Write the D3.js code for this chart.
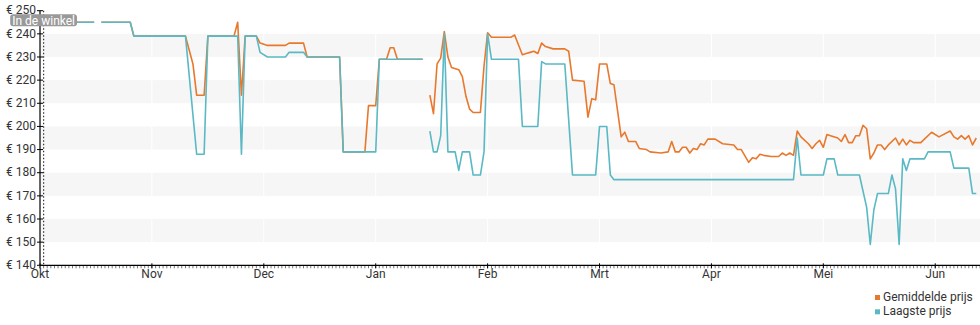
<!DOCTYPE html>
<html>
<head>
<meta charset="utf-8">
<script src="https://cdn.jsdelivr.net/npm/d3@7/dist/d3.min.js"></script>
<style>
  html, body { margin: 0; padding: 0; background: #fff; }
  svg { display: block; font-family: Roboto, "Noto Sans", sans-serif; }
</style>
</head>
<body>
<svg id="chart" width="980" height="325"></svg>
<script>
// Month labels on the time axis (Dutch)
const maandLabels = ["Okt", "Nov", "Dec", "Jan", "Feb", "Mrt", "Apr", "Mei", "Jun"];
// Price ticks on the value axis
const prijsTicks = [140, 150, 160, 170, 180, 190, 200, 210, 220, 230, 240, 250];
const startMaand = new Date(2023, 9, 1);
const eindDatum = "2024-06-13";
const winkelDatum = "2023-10-02";

// Average price per day (null = no data)
const gemiddeldePrijs = [
  ["2023-10-02",245],["2023-10-16",245],["2023-10-17",null],["2023-10-18",245],["2023-10-26",245],
  ["2023-10-27",239],["2023-11-10",239],["2023-11-12",227],["2023-11-13",213.5],["2023-11-15",213.5],
  ["2023-11-16",239],["2023-11-23",239],["2023-11-24",245],["2023-11-25",213.5],["2023-11-26",239],
  ["2023-11-29",239],["2023-11-30",236],["2023-12-01",235.5],["2023-12-02",235],["2023-12-07",235],
  ["2023-12-08",236],["2023-12-12",236],["2023-12-13",230],["2023-12-22",230],["2023-12-23",189],
  ["2023-12-29",189],["2023-12-30",209],["2024-01-01",209],["2024-01-02",229],["2024-01-04",229],
  ["2024-01-05",234],["2024-01-06",234],["2024-01-07",229],["2024-01-14",229],["2024-01-15",null],
  ["2024-01-16",213.5],["2024-01-17",205.5],["2024-01-18",227],["2024-01-19",229.5],["2024-01-20",241],
  ["2024-01-21",230],["2024-01-22",225.5],["2024-01-24",224.5],["2024-01-25",221.5],["2024-01-26",213],
  ["2024-01-27",207.5],["2024-01-28",206],["2024-01-30",206],["2024-01-31",226],["2024-02-01",240.5],
  ["2024-02-02",238.5],["2024-02-07",238.5],["2024-02-08",239.5],["2024-02-10",231],["2024-02-11",231.5],
  ["2024-02-12",232],["2024-02-13",232.5],["2024-02-14",231.5],["2024-02-15",236],["2024-02-16",234.5],
  ["2024-02-18",233.5],["2024-02-21",233.5],["2024-02-22",232.5],["2024-02-23",220],["2024-02-26",219.5],
  ["2024-02-27",204],["2024-02-28",212],["2024-02-29",211.5],["2024-03-01",227],["2024-03-03",227],
  ["2024-03-04",218.5],["2024-03-05",218],["2024-03-07",195.5],["2024-03-08",197.5],["2024-03-09",193.5],
  ["2024-03-11",193.5],["2024-03-12",190.5],["2024-03-14",190],["2024-03-15",189],["2024-03-18",188.5],
  ["2024-03-20",189],["2024-03-21",193.5],["2024-03-22",189],["2024-03-23",189],["2024-03-24",191],
  ["2024-03-25",191],["2024-03-26",188.5],["2024-03-27",190.5],["2024-03-28",190],["2024-03-29",192.5],
  ["2024-03-30",192],["2024-03-31",194.5],["2024-04-02",194.5],["2024-04-04",192.5],["2024-04-07",192],
  ["2024-04-08",190],["2024-04-09",190],["2024-04-11",184.5],["2024-04-12",186.5],["2024-04-13",186],
  ["2024-04-14",188],["2024-04-15",187.5],["2024-04-17",187],["2024-04-19",187],["2024-04-20",188.5],
  ["2024-04-21",187.5],["2024-04-22",188.5],["2024-04-23",187.5],["2024-04-24",198],["2024-04-25",195.5],
  ["2024-04-27",192.5],["2024-04-28",190.5],["2024-04-29",192.5],["2024-04-30",194],["2024-05-01",191],
  ["2024-05-02",196.5],["2024-05-03",196],["2024-05-05",195],["2024-05-06",193.5],["2024-05-07",196.5],
  ["2024-05-08",193],["2024-05-09",193],["2024-05-10",196],["2024-05-11",196],["2024-05-12",200.5],
  ["2024-05-13",199],["2024-05-14",186],["2024-05-15",188.5],["2024-05-16",192],["2024-05-17",192],
  ["2024-05-18",190],["2024-05-19",192],["2024-05-21",195],["2024-05-22",192],["2024-05-23",194.5],
  ["2024-05-24",192],["2024-05-25",194],["2024-05-26",193],["2024-05-28",193],["2024-05-29",194.5],
  ["2024-05-31",197.5],["2024-06-02",195.5],["2024-06-05",198],["2024-06-06",195.5],["2024-06-07",194.5],
  ["2024-06-08",196],["2024-06-09",194.5],["2024-06-10",196],["2024-06-11",192],["2024-06-12",195]
];

// Lowest price per day (null = no data)
const laagstePrijs = [
  ["2023-10-02",245],["2023-10-16",245],["2023-10-17",null],["2023-10-18",245],["2023-10-26",245],
  ["2023-10-27",239],["2023-11-10",239],["2023-11-13",188],["2023-11-15",188],["2023-11-16",239],
  ["2023-11-24",239],["2023-11-25",188],["2023-11-26",239],["2023-11-29",239],["2023-11-30",232],
  ["2023-12-02",230],["2023-12-07",230],["2023-12-08",232],["2023-12-12",232],["2023-12-13",230],
  ["2023-12-22",230],["2023-12-23",189],["2024-01-01",189],["2024-01-02",229],["2024-01-14",229],
  ["2024-01-15",null],["2024-01-16",198],["2024-01-17",189],["2024-01-18",189],["2024-01-19",196],
  ["2024-01-20",240],["2024-01-21",189],["2024-01-23",189],["2024-01-24",181],["2024-01-25",189],
  ["2024-01-27",189],["2024-01-28",179],["2024-01-30",179],["2024-01-31",189],["2024-02-01",240],
  ["2024-02-02",229],["2024-02-09",229],["2024-02-10",200],["2024-02-14",200],["2024-02-15",228],
  ["2024-02-16",227],["2024-02-21",227],["2024-02-23",179],["2024-02-29",179],["2024-03-01",200],
  ["2024-03-03",200],["2024-03-04",179],["2024-03-05",177],["2024-04-23",177],["2024-04-24",195],
  ["2024-04-25",179],["2024-05-01",179],["2024-05-02",186],["2024-05-04",186],["2024-05-05",179],
  ["2024-05-11",179],["2024-05-13",165],["2024-05-14",149],["2024-05-15",164],["2024-05-16",171],
  ["2024-05-19",171],["2024-05-20",179],["2024-05-21",173],["2024-05-22",149],["2024-05-23",186],
  ["2024-05-24",181],["2024-05-25",186],["2024-05-29",186],["2024-05-30",189],["2024-06-05",189],
  ["2024-06-06",182],["2024-06-10",182],["2024-06-11",171],["2024-06-12",171]
];

const series = [
  { naam: "Gemiddelde prijs", data: gemiddeldePrijs, kleur: "#e8782c" },
  { naam: "Laagste prijs", data: laagstePrijs, kleur: "#5ab9c4" }
];

const parseDag = d3.timeParse("%Y-%m-%d");

// Each month gets the same width on the axis; days are spread within their month.
function maandPositie(datum) {
  const m = (datum.getFullYear() - startMaand.getFullYear()) * 12 + datum.getMonth() - startMaand.getMonth();
  const dagenInMaand = new Date(datum.getFullYear(), datum.getMonth() + 1, 0).getDate();
  return m + (datum.getDate() - 1) / dagenInMaand;
}

const svg = d3.select("#chart");
const margin = { left: 40, right: 0, top: 10.7, bottom: 59.7 };
const W = 980, H = 325;
const fontSize = 12;

const x = d3.scaleLinear()
  .domain([0, maandPositie(parseDag(eindDatum))])
  .range([margin.left, W - margin.right]);
const y = d3.scaleLinear()
  .domain([d3.min(prijsTicks), d3.max(prijsTicks)])
  .range([H - margin.bottom, margin.top]);

// Alternating horizontal bands
const banden = svg.append("g");
for (let i = 0; i < prijsTicks.length - 1; i++) {
  if (i % 2 === 1) {
    banden.append("rect")
      .attr("x", x.range()[0]).attr("width", x.range()[1] - x.range()[0])
      .attr("y", y(prijsTicks[i + 1])).attr("height", y(prijsTicks[i]) - y(prijsTicks[i + 1]))
      .attr("fill", "#f6f6f6");
  }
}
// Faint month separators
banden.selectAll("line.maand").data(maandLabels).join("line")
  .attr("x1", (d, i) => x(i)).attr("x2", (d, i) => x(i))
  .attr("y1", y.range()[1]).attr("y2", y.range()[0])
  .attr("stroke", "#ffffff").attr("stroke-width", 1);

// "In de winkel" marker line
const wx = x(maandPositie(parseDag(winkelDatum)));
svg.append("line")
  .attr("x1", wx).attr("x2", wx)
  .attr("y1", y.range()[1]).attr("y2", y.range()[0])
  .attr("stroke", "#333").attr("stroke-width", 1.2)
  .attr("stroke-dasharray", "1.5,2");

// Lines
const lijn = d3.line()
  .defined(d => d[1] !== null)
  .x(d => x(maandPositie(parseDag(d[0]))))
  .y(d => y(d[1]));

series.forEach(s => {
  svg.append("path")
    .datum(s.data)
    .attr("fill", "none")
    .attr("stroke", s.kleur)
    .attr("stroke-width", 1.6)
    .attr("stroke-linejoin", "round")
    .attr("d", lijn);
});

// Value axis
const yAs = svg.append("g").attr("transform", `translate(${margin.left},0)`);
yAs.append("line")
  .attr("x1", 0).attr("x2", 0).attr("y1", y.range()[1]).attr("y2", y.range()[0])
  .attr("stroke", "#000").attr("stroke-width", 1.2);
yAs.selectAll("line.tick").data(prijsTicks).join("line")
  .attr("x1", -3).attr("x2", 3)
  .attr("y1", d => y(d)).attr("y2", d => y(d))
  .attr("stroke", "#000");
yAs.selectAll("text").data(prijsTicks).join("text")
  .attr("x", -4).attr("y", d => y(d) - 0.5).attr("dy", "0.35em")
  .attr("text-anchor", "end")
  .attr("font-size", fontSize).attr("fill", "#333")
  .text(d => "€ " + d);

// Time axis
const xAs = svg.append("g").attr("transform", `translate(0,${y.range()[0]})`);
// daily minor ticks
const dagen = d3.timeDay.range(startMaand, d3.timeDay.offset(parseDag(eindDatum), 1));
xAs.selectAll("line.dag").data(dagen).join("line")
  .attr("x1", d => x(maandPositie(d))).attr("x2", d => x(maandPositie(d)))
  .attr("y1", 0).attr("y2", 3)
  .attr("stroke", "#777").attr("stroke-width", 1);
xAs.append("line")
  .attr("x1", x.range()[0]).attr("x2", x.range()[1]).attr("y1", 0).attr("y2", 0)
  .attr("stroke", "#000").attr("stroke-width", 1.2);
xAs.selectAll("line.maandtick").data(maandLabels).join("line")
  .attr("x1", (d, i) => x(i)).attr("x2", (d, i) => x(i))
  .attr("y1", -2).attr("y2", 3)
  .attr("stroke", "#000");
xAs.selectAll("text").data(maandLabels).join("text")
  .attr("x", (d, i) => x(i)).attr("y", 13)
  .attr("text-anchor", "middle")
  .attr("font-size", fontSize).attr("fill", "#333")
  .text(d => d);

// "In de winkel" label
const label = svg.append("g").attr("transform", `translate(${wx},20.3)`);
const labelTekst = label.append("text")
  .attr("text-anchor", "middle").attr("dy", "0.35em")
  .attr("font-size", fontSize).attr("fill", "#fff")
  .text("In de winkel");
const bb = labelTekst.node().getBBox();
label.insert("rect", "text")
  .attr("x", bb.x - 2).attr("y", -6).attr("width", bb.width + 4).attr("height", 12)
  .attr("rx", 3).attr("fill", "#999");

// Legend
const legenda = svg.append("g").attr("transform", "translate(875,0)");
series.forEach((s, i) => {
  legenda.append("rect")
    .attr("x", 0).attr("y", 295 + i * 14.3).attr("width", 5).attr("height", 5)
    .attr("fill", s.kleur);
  legenda.append("text")
    .attr("x", 8).attr("y", 300.5 + i * 14.3)
    .attr("font-size", fontSize).attr("fill", "#333")
    .text(s.naam);
});
</script>
</body>
</html>
